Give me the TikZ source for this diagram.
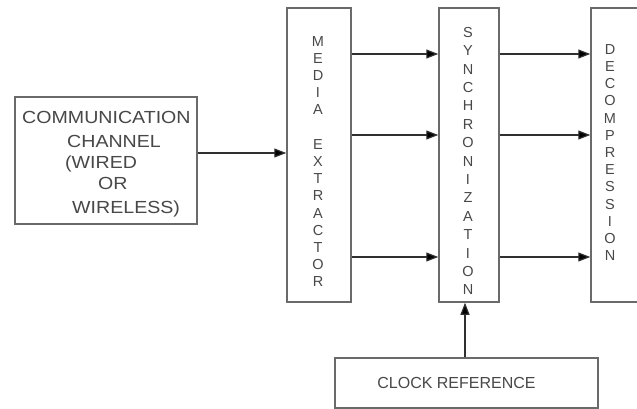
\documentclass[tikz,border=0pt]{standalone}
\usepackage{fontspec}
\setmainfont{Liberation Sans}
\newfontfamily\commfont[FakeStretch=1.12]{Liberation Sans}
\usetikzlibrary{arrows.meta}
\definecolor{boxgray}{HTML}{6A6A6A}
\definecolor{txtgray}{HTML}{484848}
\definecolor{arrgray}{HTML}{303030}
\tikzset{
  blockbox/.style={draw=boxgray, line width=1.5pt, rectangle, inner sep=0pt, fill=none},
  arr/.style={draw=arrgray, line width=1.2pt, -{Triangle[length=12pt,width=9pt,fill=black]}},
  vlabel/.style={text=txtgray, align=center, inner sep=0pt, font=\fontsize{14.5}{17.2}\selectfont},
  vlabelb/.style={vlabel, font=\fontsize{14.5}{18.4}\selectfont},
  commtext/.style={text=txtgray, anchor=base west, inner sep=0pt, font=\commfont\fontsize{17.5}{20}\selectfont},
}
\begin{document}
\begin{tikzpicture}[x=1pt,y=-1pt]
\clip (0,0) rectangle (637,409);
\fill[white] (0,0) rectangle (637,409);
% boxes
\node[blockbox, minimum width=182pt, minimum height=127pt] (comm) at (106,160.5) {};
\node[blockbox, minimum width=64pt, minimum height=294pt] (media) at (319,155) {};
\node[blockbox, minimum width=60pt, minimum height=294pt] (sync) at (469,155) {};
\node[blockbox, minimum width=69pt, minimum height=294pt] (decomp) at (625.5,155) {};
\node[blockbox, minimum width=263pt, minimum height=50pt] (clock) at (466.5,383) {};
% communication text
\node[commtext] (c1) at (22,124) {COMMUNICATION};
\node[commtext] (c2) at (67,148) {CHANNEL};
\node[commtext] (c3) at (65,168) {(WIRED};
\node[commtext] (c4) at (98,189) {OR};
\node[commtext] (c5) at (72,213) {WIRELESS)};
% vertical texts
\node[vlabel] (mt) at (318,161.5) {M\\E\\D\\I\\A\\[17.2pt]E\\X\\T\\R\\A\\C\\T\\O\\R};
\node[vlabelb] (st) at (468,161) {S\\Y\\N\\C\\H\\R\\O\\N\\I\\Z\\A\\T\\I\\O\\N};
\node[vlabel] (dt) at (610,152.5) {D\\E\\C\\O\\M\\P\\R\\E\\S\\S\\I\\O\\N};
\node[text=txtgray, inner sep=0pt, font=\fontsize{16}{18}\selectfont] (ct) at (456.5,383) {CLOCK REFERENCE};
% rows
\coordinate (r0) at (0,153);
\coordinate (r1) at (0,54);
\coordinate (r2) at (0,135);
\coordinate (r3) at (0,257);
\coordinate (cx) at (465,0);
\draw[arr] (comm.east |- r0) -- (media.west |- r0);
\foreach \r in {r1,r2,r3} {
  \draw[arr] (media.east |- \r) -- (sync.west |- \r);
  \draw[arr] (sync.east |- \r) -- (decomp.west |- \r);
}
\draw[arr] (clock.north -| cx) -- (sync.south -| cx);
\end{tikzpicture}
\end{document}
